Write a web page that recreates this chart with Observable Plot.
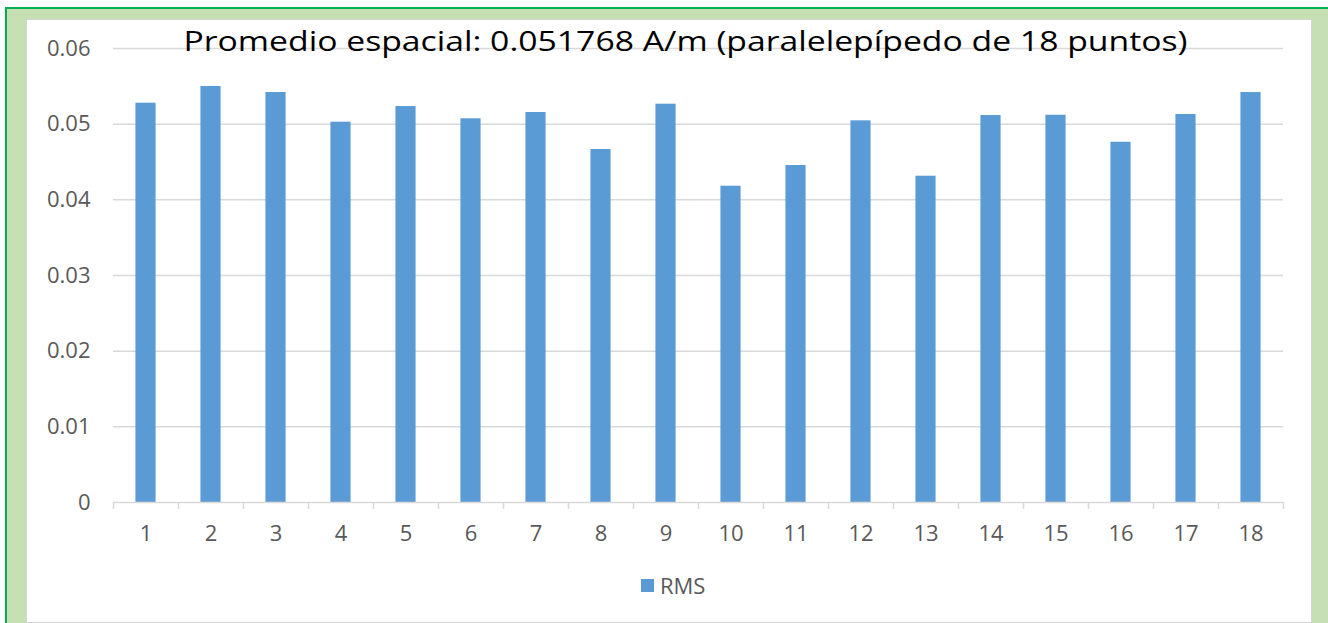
<!DOCTYPE html>
<html>
<head>
<meta charset="utf-8">
<script src="https://cdn.jsdelivr.net/npm/d3@7"></script>
<script src="https://cdn.jsdelivr.net/npm/@observablehq/plot@0.6"></script>
<style>
  html, body { margin: 0; padding: 0; }
  body { width: 1328px; height: 623px; overflow: hidden; background: #ffffff; position: relative; font-family: "Open Sans", "DejaVu Sans", sans-serif; }
  #frame { position: absolute; left: 5px; top: 7px; width: 1360px; height: 660px; border: 2px solid #00B050; background: #C6E0B4; }
  #panel { position: absolute; left: 26px; top: 19px; width: 1284px; height: 602px; border: 1px solid #d4d4d4; background: #ffffff; }
  #chart { position: absolute; left: 0; top: 0; }
  #legend { position: absolute; left: 641px; top: 570px; height: 30px; display: flex; align-items: center; color: #595959; font-size: 22px; }
  #legend .sw { width: 13px; height: 13px; background: #5B9BD5; margin-right: 6px; }
</style>
</head>
<body>
<div id="frame"></div>
<div id="panel"></div>
<div id="chart"></div>
<div id="legend"><div class="sw"></div><span>RMS</span></div>
<script>
// ---- data ----
const title = "Promedio espacial: 0.051768 A/m (paralelepípedo de 18 puntos)";
const seriesName = "RMS";
const points = [1, 2, 3, 4, 5, 6, 7, 8, 9, 10, 11, 12, 13, 14, 15, 16, 17, 18];
const rms = [0.05277, 0.05498, 0.05418, 0.05026, 0.05233, 0.05071, 0.05154, 0.04665, 0.05264,
             0.04180, 0.04454, 0.05044, 0.04312, 0.05114, 0.05118, 0.04761, 0.05128, 0.05418];
const yTicks = [0, 0.01, 0.02, 0.03, 0.04, 0.05, 0.06];
const yTickLabels = ["0", "0.01", "0.02", "0.03", "0.04", "0.05", "0.06"];

const data = points.map((p, i) => ({point: p, rms: rms[i]}));
const boundaries = [0.5, ...points.map(p => p + 0.5)];
const half = 0.155;

const chart = Plot.plot({
  width: 1328,
  height: 560,
  marginLeft: 113,
  marginRight: 45,
  marginTop: 48,
  marginBottom: 58,
  style: {background: "transparent", fontFamily: "'Open Sans', 'DejaVu Sans', sans-serif", fontSize: "22px", color: "#595959", overflow: "visible"},
  x: {type: "linear", domain: [0.5, 18.5]},
  y: {domain: [0, 0.06]},
  marks: [
    Plot.ruleY(yTicks.slice(1), {stroke: "#d9d9d9", strokeWidth: 1.5}),
    Plot.rectY(data, {x1: d => d.point - half, x2: d => d.point + half, y1: 0, y2: "rms", fill: "#5B9BD5"}),
    Plot.ruleY([0], {stroke: "#d9d9d9", strokeWidth: 1.5}),
    Plot.ruleX(boundaries, {x: d => d, y1: 0, y2: 0, insetBottom: -7, stroke: "#d9d9d9", strokeWidth: 1.5}),
    Plot.axisY(yTicks, {tickSize: 0, tickPadding: 23, tickFormat: d => yTickLabels[yTicks.indexOf(d)], fill: "#595959", label: null}),
    Plot.axisX(points, {tickSize: 0, tickPadding: 23, tickFormat: d => String(d), fill: "#595959", label: null}),
    Plot.text([title], {frameAnchor: "top", dx: -13, dy: -6, lineAnchor: "middle", fontSize: 28, fill: "#000000", text: d => d})
  ]
});
document.getElementById("chart").appendChild(chart);
document.querySelector("#legend span").textContent = seriesName;
chart.querySelectorAll("text").forEach(t => {
  if (t.textContent.startsWith("Promedio")) {
    t.setAttribute("textLength", "1004");
    t.setAttribute("lengthAdjust", "spacingAndGlyphs");
  }
});
</script>
</body>
</html>
